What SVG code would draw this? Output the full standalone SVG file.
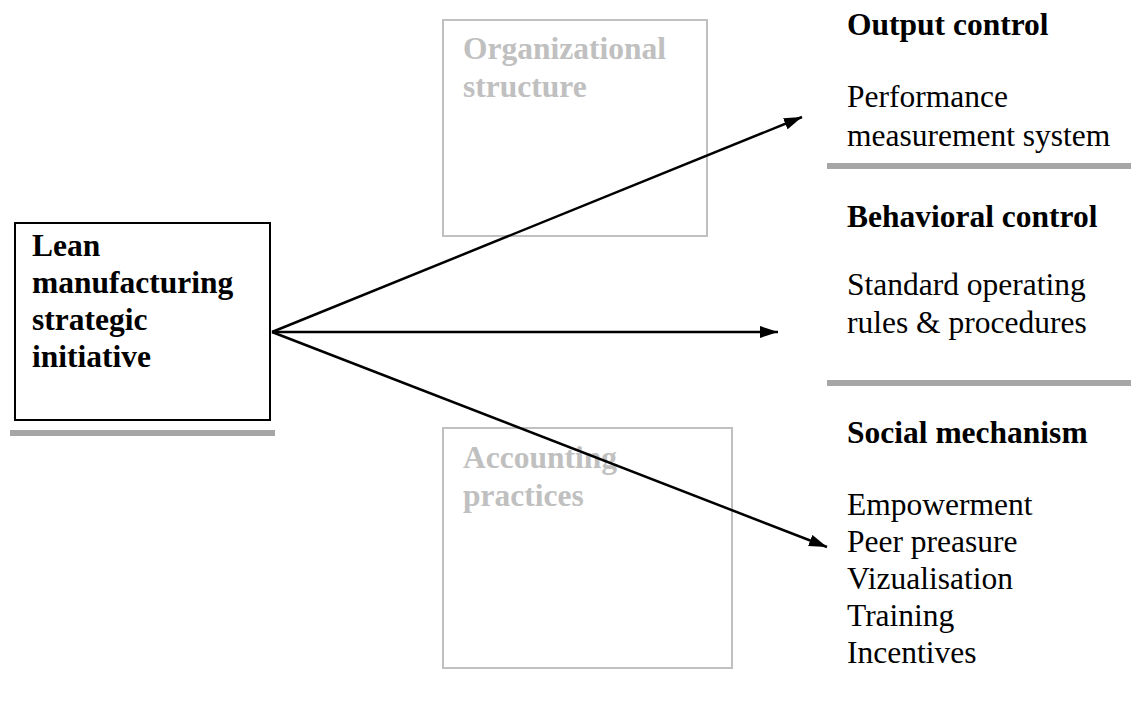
<svg xmlns="http://www.w3.org/2000/svg" width="1131" height="715" viewBox="0 0 1131 715">
  <style>
    text { font-family: "Liberation Serif", "Times New Roman", serif; font-size: 31.5px; }
    .b { font-weight: bold; }
    .dim { fill: #c0c0c0; font-weight: bold; }
    .ghost { fill: none; stroke: #c0c0c0; stroke-width: 2; }
    .rule { fill: #a6a6a6; }
    .conn { stroke: #000; stroke-width: 2.5; fill: none; marker-end: url(#arrow); }
  </style>
  <defs>
    <marker id="arrow" viewBox="0 0 18 12" refX="18" refY="6" markerWidth="18" markerHeight="12" markerUnits="userSpaceOnUse" orient="auto">
      <path d="M0,0 L18,6 L0,12 Z" fill="#000"/>
    </marker>
  </defs>
  <rect width="1131" height="715" fill="#fff"/>

  <g id="lean-initiative">
    <rect x="15" y="223" width="255" height="197" fill="#fff" stroke="#000" stroke-width="2"/>
    <rect class="rule" x="10" y="430" width="265" height="6"/>
    <text class="b" x="32" y="256">Lean</text>
    <text class="b" x="32" y="293">manufacturing</text>
    <text class="b" x="32" y="330">strategic</text>
    <text class="b" x="32" y="367">initiative</text>
  </g>

  <g id="organizational-structure">
    <rect class="ghost" x="443" y="20" width="264" height="216"/>
    <text class="dim" x="463" y="59">Organizational</text>
    <text class="dim" x="463" y="97">structure</text>
  </g>

  <g id="accounting-practices">
    <rect class="ghost" x="443" y="428" width="289" height="240"/>
    <text class="dim" x="463" y="468">Accounting</text>
    <text class="dim" x="463" y="506">practices</text>
  </g>

  <g id="output-control">
    <text class="b" x="847" y="35">Output control</text>
    <text x="847" y="107">Performance</text>
    <text x="847" y="146">measurement system</text>
    <rect class="rule" x="827" y="163" width="304" height="6"/>
  </g>

  <g id="behavioral-control">
    <text class="b" x="847" y="227">Behavioral control</text>
    <text x="847" y="295">Standard operating</text>
    <text x="847" y="333">rules &amp; procedures</text>
    <rect class="rule" x="827" y="380" width="304" height="6"/>
  </g>

  <g id="social-mechanism">
    <text class="b" x="847" y="443">Social mechanism</text>
    <text x="847" y="515">Empowerment</text>
    <text x="847" y="552">Peer preasure</text>
    <text x="847" y="589">Vizualisation</text>
    <text x="847" y="626">Training</text>
    <text x="847" y="663">Incentives</text>
  </g>

  <g id="connectors">
    <line class="conn" x1="272" y1="332" x2="802" y2="117"/>
    <line class="conn" x1="272" y1="332" x2="778" y2="332"/>
    <line class="conn" x1="272" y1="332" x2="827" y2="547"/>
  </g>
</svg>
